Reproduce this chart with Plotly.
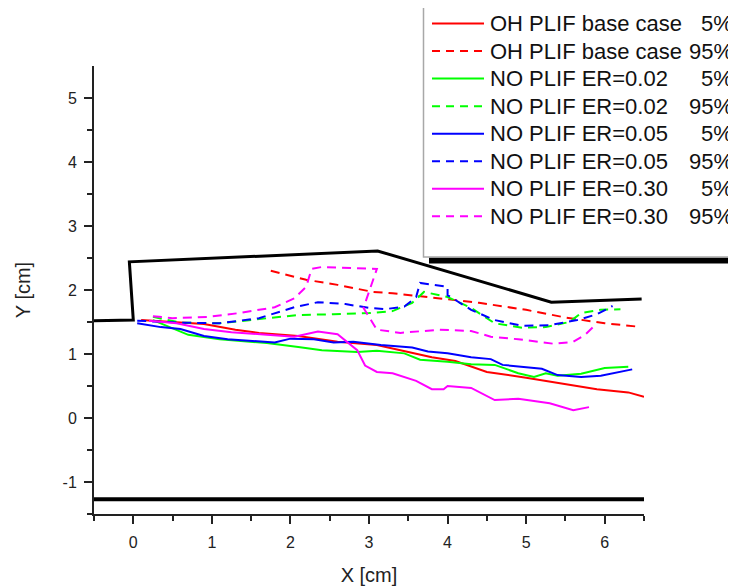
import plotly.graph_objects as go

# ---------------- data ----------------
oh5_x = [0.1, 0.5, 0.9, 1.3, 1.6, 2.1, 2.6, 3.1, 3.5, 3.8, 4.1, 4.5, 5.0, 5.5, 5.9, 6.3, 6.5]
oh5_y = [1.53, 1.50, 1.47, 1.38, 1.33, 1.28, 1.19, 1.14, 1.03, 0.95, 0.89, 0.72, 0.63, 0.53, 0.45, 0.40, 0.33]

oh95_x = [1.75, 2.2, 2.6, 3.05, 3.3, 3.8, 4.4, 5.0, 5.5, 6.0, 6.4]
oh95_y = [2.30, 2.16, 2.08, 1.97, 1.95, 1.88, 1.80, 1.69, 1.57, 1.48, 1.43]

er002_5_x = [0.25, 0.7, 1.1, 1.7, 2.1, 2.4, 2.85, 3.1, 3.45, 3.65, 4.0, 4.3, 4.6, 4.9, 5.1, 5.25, 5.4, 5.7, 6.0, 6.3]
er002_5_y = [1.53, 1.30, 1.23, 1.17, 1.11, 1.06, 1.03, 1.05, 1.01, 0.91, 0.88, 0.84, 0.83, 0.70, 0.64, 0.70, 0.66, 0.69, 0.78, 0.80]

er002_95_x = [0.25, 0.6, 1.1, 1.6, 2.1, 2.55, 3.0, 3.3, 3.55, 3.7, 4.0, 4.3, 4.6, 4.95, 5.25, 5.55, 5.7, 5.95, 6.2]
er002_95_y = [1.58, 1.49, 1.48, 1.55, 1.61, 1.62, 1.64, 1.67, 1.80, 1.97, 1.89, 1.72, 1.48, 1.41, 1.42, 1.50, 1.64, 1.69, 1.70]

er005_5_x = [0.05, 0.35, 0.6, 0.9, 1.2, 1.5, 1.8, 2.0, 2.3, 2.55, 2.8, 3.15, 3.55, 3.75, 4.0, 4.3, 4.55, 4.7, 5.0, 5.2, 5.4, 5.7, 5.95, 6.15, 6.35]
er005_5_y = [1.48, 1.42, 1.39, 1.28, 1.23, 1.20, 1.18, 1.24, 1.23, 1.18, 1.19, 1.14, 1.10, 1.04, 1.01, 0.95, 0.92, 0.83, 0.80, 0.77, 0.67, 0.64, 0.66, 0.71, 0.76]

er005_95_x = [0.05, 0.6, 1.1, 1.6, 2.05, 2.35, 2.7, 3.0, 3.2, 3.45, 3.6, 3.65, 4.0, 4.0, 4.3, 4.6, 4.95, 5.3, 5.65, 5.9, 6.1]
er005_95_y = [1.52, 1.49, 1.48, 1.56, 1.73, 1.81, 1.78, 1.72, 1.70, 1.74, 1.89, 2.11, 2.05, 1.92, 1.69, 1.53, 1.44, 1.45, 1.53, 1.62, 1.75]

er030_5_x = [0.2, 0.55, 0.9, 1.25, 1.7, 2.05, 2.35, 2.6, 2.85, 2.95, 3.1, 3.3, 3.6, 3.8, 3.95, 4.0, 4.3, 4.4, 4.6, 4.9, 5.3, 5.6, 5.8]
er030_5_y = [1.52, 1.48, 1.39, 1.34, 1.30, 1.27, 1.35, 1.31, 1.06, 0.82, 0.72, 0.70, 0.58, 0.45, 0.45, 0.50, 0.47, 0.41, 0.28, 0.30, 0.23, 0.12, 0.17]

er030_95_x = [0.25, 0.5, 0.95, 1.35, 1.8, 2.05, 2.2, 2.27, 2.4, 2.75, 3.05, 3.1, 2.93, 3.1, 3.4, 3.9, 4.3, 4.55, 4.9, 5.35, 5.6, 5.75, 5.85]
er030_95_y = [1.59, 1.56, 1.58, 1.64, 1.73, 1.87, 2.05, 2.33, 2.36, 2.35, 2.34, 2.33, 1.72, 1.38, 1.33, 1.38, 1.36, 1.27, 1.23, 1.16, 1.19, 1.30, 1.42]

wall_x = [-0.5, 0.0, -0.05, 3.11, 5.32, 6.47]
wall_y = [1.52, 1.53, 2.44, 2.61, 1.81, 1.86]
floor_x = [-0.5, 6.5]
floor_y = [-1.27, -1.27]

x_ticks = [0, 1, 2, 3, 4, 5, 6]
x_tick_labels = ["0", "1", "2", "3", "4", "5", "6"]
x_minor = [-0.5, 0.5, 1.5, 2.5, 3.5, 4.5, 5.5, 6.5]
y_ticks = [-1, 0, 1, 2, 3, 4, 5]
y_tick_labels = ["-1", "0", "1", "2", "3", "4", "5"]
y_minor = [-1.5, -0.5, 0.5, 1.5, 2.5, 3.5, 4.5]

labels = ["OH PLIF base case", "OH PLIF base case", "NO PLIF ER=0.02", "NO PLIF ER=0.02",
          "NO PLIF ER=0.05", "NO PLIF ER=0.05", "NO PLIF ER=0.30", "NO PLIF ER=0.30"]
pcts = ["5%", "95%", "5%", "95%", "5%", "95%", "5%", "95%"]
colors = ["#ff0000", "#ff0000", "#00ff00", "#00ff00", "#0000ff", "#0000ff", "#ff00ff", "#ff00ff"]
dashes = ["solid", "9px,6px"] * 4

series = [(oh5_x, oh5_y), (oh95_x, oh95_y), (er002_5_x, er002_5_y), (er002_95_x, er002_95_y),
          (er005_5_x, er005_5_y), (er005_95_x, er005_95_y), (er030_5_x, er030_5_y), (er030_95_x, er030_95_y)]

FONT = "Liberation Sans, Arial, sans-serif"
OFF = 8  # page body margin
W, H = 736 - OFF, 586 - OFF
L, R, T, B = 94 - OFF, 644 - OFF, 66 - OFF, 514 - OFF

fig = go.Figure()
fig.add_trace(go.Scatter(x=wall_x, y=wall_y, mode="lines", line=dict(color="black", width=3), showlegend=False))
fig.add_trace(go.Scatter(x=floor_x, y=floor_y, mode="lines", line=dict(color="black", width=4), showlegend=False))

for (sx, sy), lab, p, c, d in zip(series, labels, pcts, colors, dashes):
    fig.add_trace(go.Scatter(x=sx, y=sy, mode="lines", name=f"{lab} {p}",
                             line=dict(color=c, width=2, dash=d), showlegend=False))

# custom legend (page pixel -> paper conversion)
def px(xp):
    return (xp - OFF - L) / (R - L)

def py(yp):
    return (B - (yp - OFF)) / (B - T)

shapes = []
shapes.append(dict(type="rect", xref="paper", yref="paper", x0=px(429), x1=px(745), y0=py(263.5), y1=py(257.5),
                   fillcolor="black", line=dict(width=0), layer="above"))
shapes.append(dict(type="rect", xref="paper", yref="paper", x0=px(423.5), x1=px(740), y0=py(257), y1=py(3),
                   fillcolor="white", line=dict(color="#a8a8a8", width=1.5), layer="above"))
annotations = []
for i, (lab, p, c, d) in enumerate(zip(labels, pcts, colors, dashes)):
    yy = 23.5 + 27.55 * i
    shapes.append(dict(type="line", xref="paper", yref="paper", x0=px(432), x1=px(484), y0=py(yy), y1=py(yy),
                       line=dict(color=c, width=2, dash=("8px,6px" if d != "solid" else "solid")), layer="above"))
    annotations.append(dict(xref="paper", yref="paper", x=px(488), y=py(yy), text=lab, showarrow=False,
                            xanchor="left", yanchor="middle", font=dict(family=FONT, size=22, color="#111")))
    annotations.append(dict(xref="paper", yref="paper", x=px(735), y=py(yy), text=p, showarrow=False,
                            xanchor="right", yanchor="middle", font=dict(family=FONT, size=22, color="#111")))

axis_common = dict(showgrid=False, zeroline=False, showline=True, linecolor="#222", linewidth=2,
                   ticks="outside", ticklen=8, tickwidth=2, tickcolor="#222", automargin=False,
                   tickfont=dict(family=FONT, size=16, color="#222"))

fig.update_layout(
    width=W, height=H,
    margin=dict(l=L, r=W - R, t=T, b=H - B),
    paper_bgcolor="white", plot_bgcolor="white",
    showlegend=False,
    shapes=shapes, annotations=annotations,
    xaxis=dict(range=[-0.5, 6.5], tickvals=x_ticks, ticktext=x_tick_labels,
               minor=dict(tickvals=x_minor, ticks="outside", ticklen=5, tickwidth=2, tickcolor="#222"),
               title=dict(text="X [cm]", font=dict(family=FONT, size=20, color="#222"), standoff=19),
               ticklabelstandoff=5, **axis_common),
    yaxis=dict(range=[-1.5, 5.5], tickvals=y_ticks, ticktext=y_tick_labels,
               minor=dict(tickvals=y_minor, ticks="outside", ticklen=5, tickwidth=2, tickcolor="#222"),
               title=dict(text="Y [cm]", font=dict(family=FONT, size=20, color="#222"), standoff=27),
               ticklabelstandoff=4, **axis_common),
)

fig.write_html("out.html")
